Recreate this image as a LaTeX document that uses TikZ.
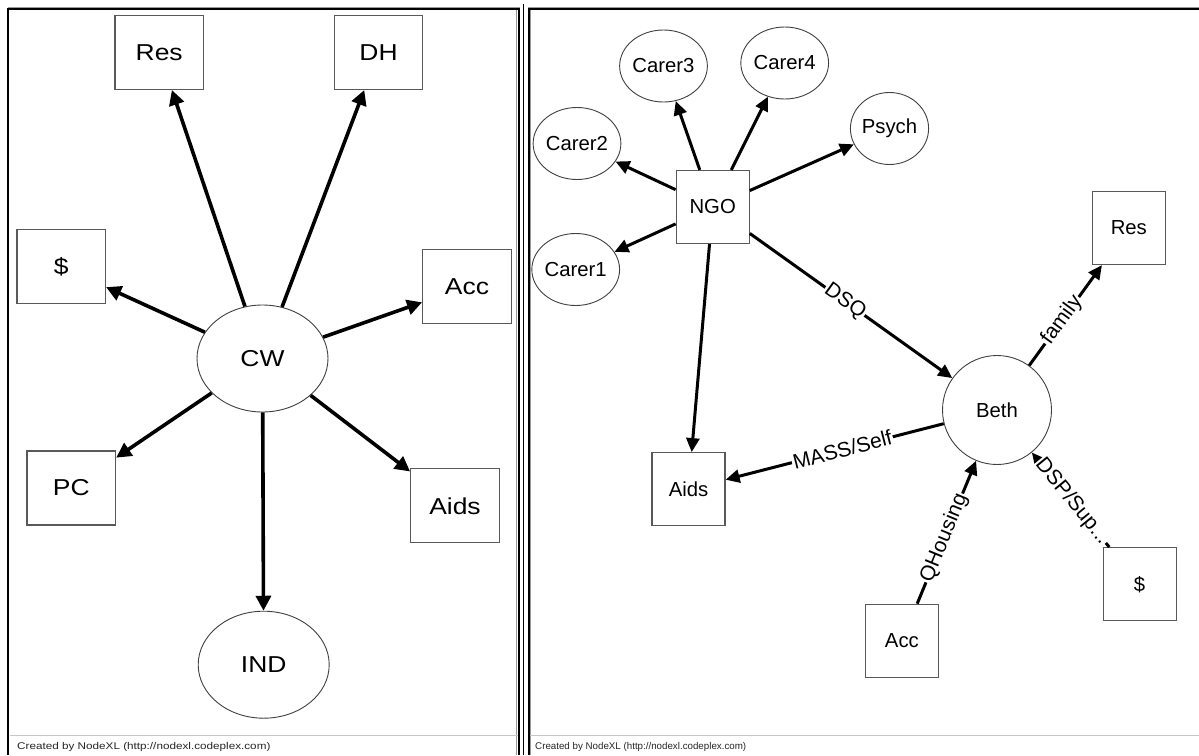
\documentclass[tikz,border=0pt]{standalone}
\usepackage{fontspec}
\setmainfont{Liberation Sans}
% left panel is drawn slightly widened
\newfontfamily\widefont[FakeStretch=1.15]{Liberation Sans}
\newfontfamily\widefoot[FakeStretch=1.2]{Liberation Sans}
\usetikzlibrary{arrows.meta,shapes.geometric}

\begin{document}
\begin{tikzpicture}[x=1pt,y=-1pt,
  lbox/.style={rectangle, draw=black!65, line width=1.2pt, minimum width=88.6pt,
    minimum height=74pt, inner sep=0pt, font={\widefont\fontsize{23}{27}\selectfont}},
  lell/.style={ellipse, draw=black!75, line width=0.9pt, minimum width=131pt,
    minimum height=107pt, inner sep=0pt, font={\widefont\fontsize{23}{27}\selectfont}},
  rbox/.style={rectangle, draw=black!65, line width=1.2pt, minimum width=73pt,
    minimum height=73pt, inner sep=0pt, font={\fontsize{20.3}{24}\selectfont}},
  rcirc/.style={ellipse, draw=black!75, line width=0.9pt, minimum width=72pt,
    minimum height=72pt, inner sep=0pt, font={\fontsize{20.3}{24}\selectfont}},
  ledge/.style={draw=black, line width=3.6pt, -{Triangle[length=15pt,width=15pt]}},
  redge/.style={draw=black, line width=3pt, -{Triangle[length=14pt,width=13pt]}},
  elabel/.style={sloped, fill=white, inner sep=1.2pt, text=black,
    font={\fontsize{21}{24}\selectfont}},
  footnote/.style={anchor=west, inner sep=0pt, text=black!85},
  frameline/.style={draw=black, line width=2pt},
  shadeline/.style={draw=black!40, line width=1pt}
]
\useasboundingbox (0,0) rectangle (1199,755);
\fill[white] (0,0) rectangle (1199,755);

% ---------- panel frames ----------
\draw[shadeline] (8,7) -- (520,7);
\draw[frameline] (8.3,755) -- (8.3,9) -- (519,9) -- (519,755);
\draw[shadeline] (516.7,10) -- (516.7,755);
\draw[draw=black, line width=0.8pt] (523,4) -- (523,755);
\draw[shadeline] (528,7) -- (1199,7);
\draw[frameline] (529,755) -- (529,9) -- (1199,9);
\draw[shadeline] (530.7,10) -- (530.7,755);
\draw[draw=black!22, line width=1pt] (9.5,735) -- (518,735);
\draw[draw=black!22, line width=1pt] (530,735) -- (1199,735);

% ---------- left network ----------
\node[lell] (cw)  at (262.5,358.5) {CW};
\node[lbox] (lres) at (159.2,52.4) {Res};
\node[lbox] (ldh)  at (378.5,52.4) {DH};
\node[lbox] (lmon) at (61.2,266.7) {\$};
\node[lbox] (lacc) at (467,286.5) {Acc};
\node[lbox] (lpc)  at (71.3,488) {PC};
\node[lbox] (laid) at (455,505.8) {Aids};
\node[lell] (lind) at (263.7,664.7) {IND};

\draw[ledge] (cw) -- (lres);
\draw[ledge] (cw) -- (ldh);
\draw[ledge] (cw) -- (lmon);
\draw[ledge] (cw) -- (lacc);
\draw[ledge] (cw) -- (lpc);
\draw[ledge] (cw) -- (laid);
\draw[ledge] (cw) -- (lind);

\node[footnote, font={\widefoot\fontsize{9.76}{11}\selectfont}] (lfoot) at (17,747)
  {Created by NodeXL (http://nodexl.codeplex.com)};

% ---------- right network ----------
\node[rbox]  (ngo)  at (712.7,207) {NGO};
\node[rcirc] (c1)   at (575.7,269.5) {Carer1};
\node[rcirc] (c2)   at (577,143.5) {Carer2};
\node[rcirc] (c3)   at (663.5,66) {Carer3};
\node[rcirc] (c4)   at (784.7,63) {Carer4};
\node[rcirc] (psy)  at (889.5,128.5) {Psych};
\node[rbox]  (rres) at (1128.8,228) {Res};
\node[ellipse, draw=black!75, line width=0.9pt, minimum width=109pt,
      minimum height=109pt, inner sep=0pt, font={\fontsize{20.3}{24}\selectfont}]
      (beth) at (997,410) {Beth};
\node[rbox]  (raid) at (688.5,489.2) {Aids};
\node[rbox]  (racc) at (901.9,640.8) {Acc};
\node[rbox]  (rmon) at (1139.6,584.2) {\$};

\draw[redge] (ngo) -- (c1);
\draw[redge] (ngo) -- (c2);
\draw[redge] (ngo) -- (c3);
\draw[redge] (ngo) -- (c4);
\draw[redge] (ngo) -- (psy);
\draw[redge] (ngo) -- (raid);
\draw[redge] (ngo) -- node[elabel, pos=0.47] {DSQ} (beth);
\draw[redge] (beth) -- node[elabel, pos=0.45] {family} (rres);
\draw[redge] (beth) -- node[elabel, pos=0.465] {MASS/Self} (raid);
\draw[redge] (racc) -- node[elabel, pos=0.46] {QHousing} (beth);
\draw[redge] (rmon) -- node[elabel, pos=0.48] {DSP/Sup...} (beth);

\node[footnote, font={\fontsize{9.76}{11}\selectfont}] (rfoot) at (535,747)
  {Created by NodeXL (http://nodexl.codeplex.com)};
\end{tikzpicture}
\end{document}
